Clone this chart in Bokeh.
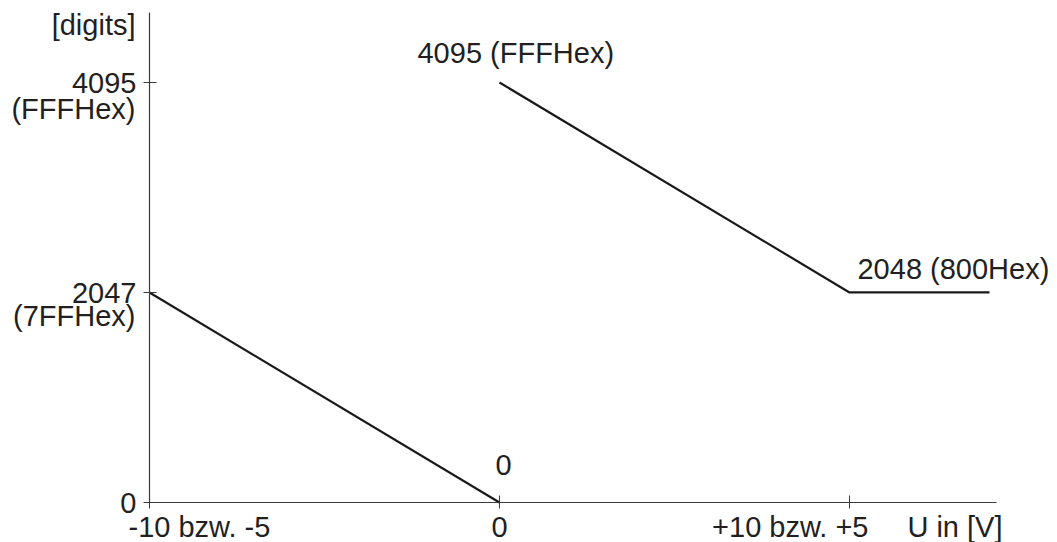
from bokeh.plotting import figure
from bokeh.models import Label, FixedTicker, Range1d
from bokeh.embed import file_html
from bokeh.resources import INLINE

# ---- data ----
x_ticks = [-10, 0, 10]
x_tick_labels = ["-10 bzw. -5", "0", "+10 bzw. +5"]
x_axis_title = "U in [V]"
y_ticks = [0, 2047, 4095]
y_tick_labels = ["0", "2047", "4095"]
y_tick_sublabels = ["", "(7FFHex)", "(FFFHex)"]
y_axis_title = "[digits]"

seg1_x = [-10, 0]
seg1_y = [2047, 0]
seg2_x = [0, 10, 14]
seg2_y = [4095, 2048, 2048]

point_labels = ["0", "4095 (FFFHex)", "2048 (800Hex)"]
point_label_x = [0, 0, 10]
point_label_y = [0, 4095, 2048]

# ---- layout / styling ----
W, H = 1057, 542
FONT = "Liberation Sans"
FS = "29px"
TXT = "#231f20"
AX = "#3a3a3a"
X_AX_END = 14.2
Y_AX_END = 4777.5
X0, Y0 = -14.257, -390.0
X1, Y1 = 15.943, 4894.5

p = figure(width=W, height=H, output_backend="svg", toolbar_location=None,
           x_range=Range1d(X0, X1), y_range=Range1d(Y0, Y1),
           min_border=0)
p.background_fill_color = "white"
p.border_fill_color = "white"
p.outline_line_color = None
p.grid.visible = False

p.line(seg1_x, seg1_y, line_color="#1a1a1a", line_width=2.2)
p.line(seg2_x, seg2_y, line_color="#1a1a1a", line_width=2.2)

ax = p.xaxis[0]
ax.fixed_location = 0
ax.bounds = (x_ticks[0], X_AX_END)
ax.ticker = FixedTicker(ticks=x_ticks)
ax.major_label_overrides = {t: "" for t in x_ticks}
ax.minor_tick_line_color = None
ax.major_tick_in = 7
ax.major_tick_out = 6
ax.axis_line_color = AX
ax.major_tick_line_color = AX
ax.axis_line_width = 1.2

ay = p.yaxis[0]
ay.fixed_location = x_ticks[0]
ay.bounds = (y_ticks[0], Y_AX_END)
ay.ticker = FixedTicker(ticks=y_ticks)
ay.major_label_overrides = {t: l for t, l in zip(y_ticks, y_tick_labels)}
ay.minor_tick_line_color = None
ay.major_tick_in = 7
ay.major_tick_out = 6
ay.major_label_standoff = 7
ay.major_label_text_font = FONT
ay.major_label_text_font_size = FS
ay.major_label_text_color = TXT
ay.major_label_text_font_style = "normal"
ay.axis_line_color = AX
ay.major_tick_line_color = AX
ay.axis_line_width = 1.2


def lab(text, x, y, dx, dy, align):
    p.add_layout(Label(x=x, y=y, x_offset=dx, y_offset=dy, text=text, text_align=align,
                       text_baseline="alphabetic", text_font=FONT, text_font_size=FS,
                       text_color=TXT))


# y tick sub-labels
sub_dy = {2047: -23, 4095: -26}
for t, s in zip(y_ticks, y_tick_sublabels):
    if s:
        lab(s, x_ticks[0], t, -14, sub_dy[t], "right")

lab(y_axis_title, x_ticks[0], Y_AX_END, -14, -12, "right")

# x tick labels
x_dx = [-21, 0, 19]
x_al = ["left", "center", "right"]
for t, s, dx, al in zip(x_ticks, x_tick_labels, x_dx, x_al):
    lab(s, t, 0, dx, -24, al)
lab(x_axis_title, X_AX_END, 0, 6, -24, "right")

# point labels
pl_dx = [4, -82, 8]
pl_dy = [38, 30, 23]
pl_al = ["center", "left", "left"]
for s, x, y, dx, dy, al in zip(point_labels, point_label_x, point_label_y, pl_dx, pl_dy, pl_al):
    lab(s, x, y, dx, dy, al)

open("out.html", "w").write(file_html(p, INLINE))
